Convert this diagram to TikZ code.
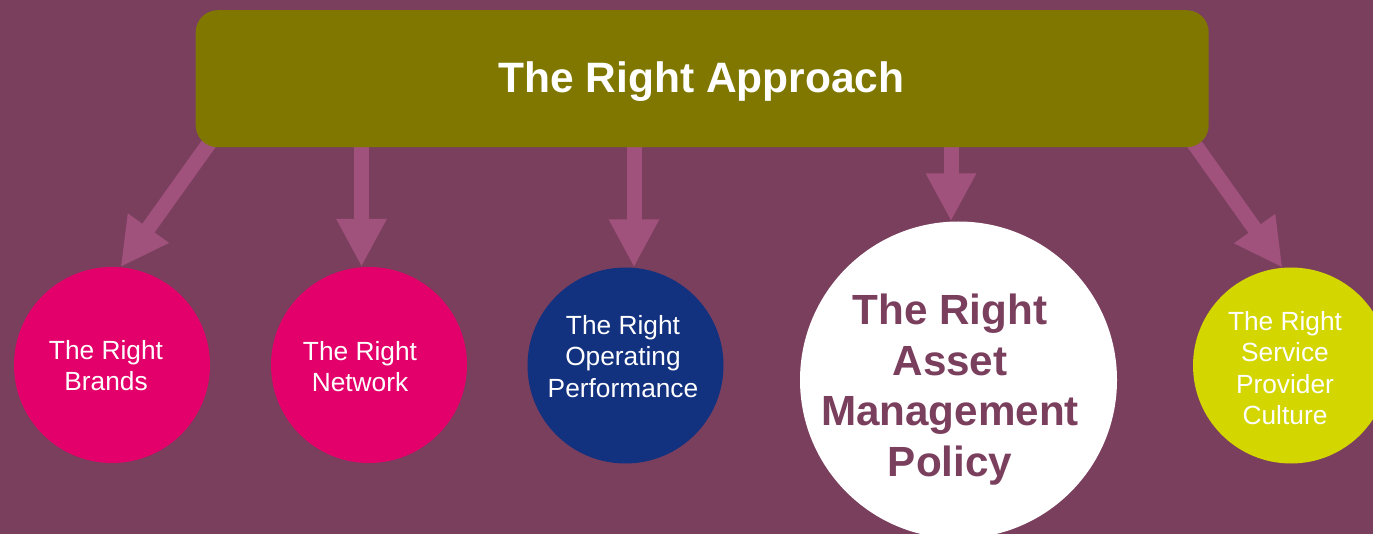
\documentclass[tikz,border=0pt]{standalone}
\usepackage{fontspec}
\setmainfont{Liberation Sans}
\usetikzlibrary{arrows.meta}
\pgfdeclarelayer{bg}
\pgfdeclarelayer{arrowlayer}
\pgfsetlayers{bg,arrowlayer,main}

\definecolor{plumbg}{HTML}{7B3F5E}
\definecolor{approachcol}{HTML}{7F7700}
\definecolor{arrowcol}{HTML}{A0527D}
\definecolor{pinkcol}{HTML}{E3006A}
\definecolor{navycol}{HTML}{12317F}
\definecolor{limecol}{HTML}{D4D600}

\tikzset{
  x=1pt, y=-1pt,
  bigarrow/.style={draw=arrowcol, line width=15pt,
    -{Triangle[width=47pt,length=48pt]}},
  disc/.style={circle, inner sep=0pt, minimum size=196pt},
  smalltxt/.style={text=white, align=center, inner sep=0pt,
    font=\fontsize{26.3}{31.6}\selectfont},
  bigtxt/.style={text=plumbg, align=center, inner sep=0pt,
    font=\fontsize{42.2}{50.7}\selectfont\bfseries},
}

\begin{document}
\begin{tikzpicture}
\useasboundingbox (0,0) rectangle (1373,534);
\begin{pgfonlayer}{bg}
  \fill[plumbg] (0,0) rectangle (1373,534);
\end{pgfonlayer}

% header bar
\node[rectangle, rounded corners=22pt, fill=approachcol, inner sep=0pt,
      minimum width=1013pt, minimum height=137pt, anchor=north west]
      (top) at (195.5,10) {};
\node[text=white, inner sep=0pt,
      font=\fontsize{42.5}{51}\selectfont\bfseries]
      (title) at (701.5,82) {The Right Approach};

% the five discs
\node[disc, fill=pinkcol]  (c1) at (112,365) {};
\node[disc, fill=pinkcol]  (c2) at (369,365) {};
\node[disc, fill=navycol]  (c3) at (625.5,365.5) {};
\node[disc, fill=white, minimum size=317pt] (c4) at (958.5,380) {};
\node[disc, fill=limecol]  (c5) at (1291,365.5) {};

\node[smalltxt] (t1) at (106,365.5) {The Right\\Brands};
\node[smalltxt] (t2) at (360,366.5) {The Right\\Network};
\node[smalltxt] (t3) at (623,356.5) {The Right\\Operating\\Performance};
\node[bigtxt]   (t4) at (950,389.5) {The Right\\Asset\\Management\\Policy};
\node[smalltxt] (t5) at (1285,368) {The Right\\Service\\Provider\\Culture};

% arrow roots, hidden behind the header bar
\coordinate (s1) at (215,135);
\coordinate (s2) at (361.5,140);
\coordinate (s3) at (634,140);
\coordinate (s4) at (951,140);
\coordinate (s5) at (1188,135);

\begin{pgfonlayer}{arrowlayer}
  \draw[bigarrow] (s1) -- (c1.85);
  \draw[bigarrow] (s2) -- (s2 |- c2.north);
  \draw[bigarrow] (s3) -- (s3 |- c3.north);
  \draw[bigarrow] (s4) -- (s4 |- c4.north);
  \draw[bigarrow] (s5) -- (c5.95);
\end{pgfonlayer}
\end{tikzpicture}
\end{document}
